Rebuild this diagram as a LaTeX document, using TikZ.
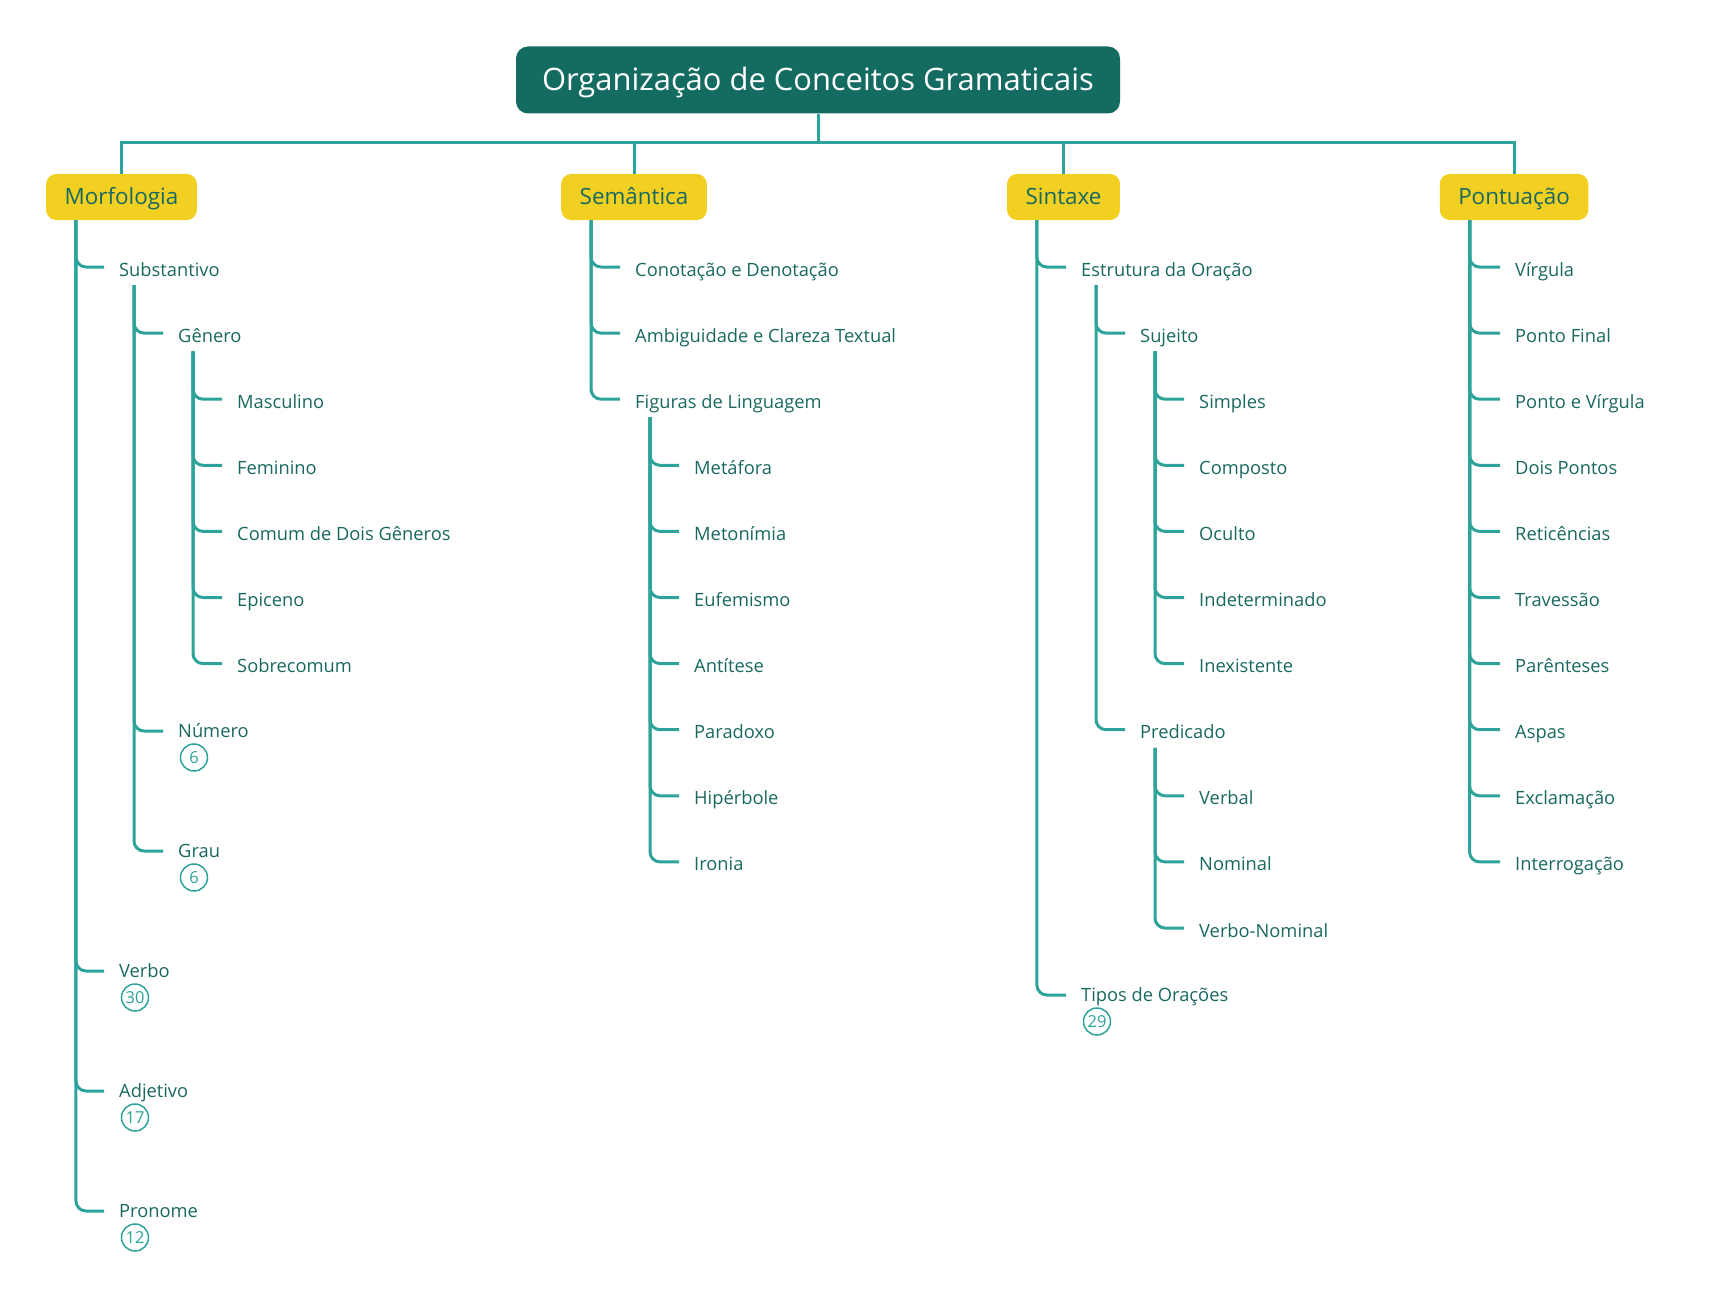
\documentclass[tikz,border=0pt]{standalone}
\usepackage{fontspec}
\setmainfont{Open Sans}
\usetikzlibrary{positioning, calc}

\definecolor{titleteal}{RGB}{20,107,98}
\definecolor{linkteal}{RGB}{45,163,154}
\definecolor{textteal}{RGB}{24,104,96}
\definecolor{catyellow}{RGB}{242,208,34}

\begin{document}
\begin{tikzpicture}[x=1pt, y=-1pt,
  rootbox/.style={fill=titleteal, text=white, rounded corners=12pt, minimum width=604pt, minimum height=67pt, text height=24pt, text depth=2pt, font=\fontsize{30.9}{36}\selectfont},
  catbox/.style={fill=catyellow, text=textteal, rounded corners=10pt, minimum height=46pt, inner xsep=18.5pt, text height=18pt, text depth=3pt, font=\fontsize{22.4}{26}\selectfont},
  topic/.style={anchor=west, text=textteal, inner xsep=15pt, inner ysep=7pt, text height=20pt, text depth=2pt, font=\fontsize{18.3}{22}\selectfont},
  topicn/.style={topic, text height=18pt, text depth=5pt},
  badge/.style={circle, draw=linkteal, line width=1.5pt, text=linkteal, inner sep=0pt, minimum size=27pt, font=\fontsize{16.5}{18}\selectfont},
  link/.style={draw=linkteal, line width=3pt},
  branch/.style={link, rounded corners=10pt}]
  \useasboundingbox (0,0) rectangle (1710,1316);

  % Root
  \node[rootbox] (root) at (818,80) {Organização de Conceitos Gramaticais};

  % Main branches
  \node[catbox] (morf) at (121.5,197) {Morfologia};
  \node[catbox] (sem) at (634,197) {Semântica};
  \node[catbox] (sint) at (1063.5,197) {Sintaxe};
  \node[catbox] (pont) at (1514,197) {Pontuação};
  \coordinate (bar) at (818,143);
  \draw[link] (root.south) -- (bar);
  \foreach \cat in {morf, sem, sint, pont}
    \draw[link] (bar) -| (\cat.north);

  % Morfologia
  \node[topic] (subst) at (104,267) {Substantivo};
  \node[topic] (gen) at (163,333.1) {Gênero};
  \foreach \txt [count=\i] in {Masculino, Feminino, Comum de Dois Gêneros, Epiceno, Sobrecomum} {
    \node[topic] (gen\i) at (222,{333.1+66.1*\i}) {\txt};
    \draw[branch] ([xshift=30pt]gen.south west) |- (gen\i.west);
  }
  \node[topicn] (num) at (163,731) {Número};
  \node[badge] (num-n) at ($(num.west)+(31,26.5)$) {6};
  \node[topicn] (grau) at (163,851) {Grau};
  \node[badge] (grau-n) at ($(grau.west)+(31,26.5)$) {6};
  \foreach \n in {gen, num, grau}
    \draw[branch] ([xshift=30pt]subst.south west) |- (\n.west);
  \node[topicn] (verb) at (104,971) {Verbo};
  \node[badge] (verb-n) at ($(verb.west)+(31,26.5)$) {30};
  \node[topicn] (adj) at (104,1091) {Adjetivo};
  \node[badge] (adj-n) at ($(adj.west)+(31,26.5)$) {17};
  \node[topicn] (pron) at (104,1211) {Pronome};
  \node[badge] (pron-n) at ($(pron.west)+(31,26.5)$) {12};
  \foreach \n in {subst, verb, adj, pron}
    \draw[branch] ([xshift=30pt]morf.south west) |- (\n.west);

  % Semantica
  \node[topic] (conot) at (620,267) {Conotação e Denotação};
  \node[topic] (ambig) at (620,333.1) {Ambiguidade e Clareza Textual};
  \node[topic] (fig) at (620,399.2) {Figuras de Linguagem};
  \foreach \n in {conot, ambig, fig}
    \draw[branch] ([xshift=30pt]sem.south west) |- (\n.west);
  \foreach \txt [count=\i] in {Metáfora, Metonímia, Eufemismo, Antítese, Paradoxo, Hipérbole, Ironia} {
    \node[topic] (fig\i) at (679,{399.2+66.1*\i}) {\txt};
    \draw[branch] ([xshift=30pt]fig.south west) |- (fig\i.west);
  }

  % Sintaxe
  \node[topic] (estr) at (1066,267) {Estrutura da Oração};
  \node[topic] (suj) at (1125,333.1) {Sujeito};
  \foreach \txt [count=\i] in {Simples, Composto, Oculto, Indeterminado, Inexistente} {
    \node[topic] (suj\i) at (1184,{333.1+66.1*\i}) {\txt};
    \draw[branch] ([xshift=30pt]suj.south west) |- (suj\i.west);
  }
  \node[topic] (pred) at (1125,729.7) {Predicado};
  \foreach \txt [count=\i] in {Verbal, Nominal, Verbo-Nominal} {
    \node[topic] (pred\i) at (1184,{729.7+66.1*\i}) {\txt};
    \draw[branch] ([xshift=30pt]pred.south west) |- (pred\i.west);
  }
  \foreach \n in {suj, pred}
    \draw[branch] ([xshift=30pt]estr.south west) |- (\n.west);
  \node[topicn] (tipos) at (1066,995) {Tipos de Orações};
  \node[badge] (tipos-n) at ($(tipos.west)+(31,26.5)$) {29};
  \foreach \n in {estr, tipos}
    \draw[branch] ([xshift=30pt]sint.south west) |- (\n.west);

  % Pontuacao
  \foreach \txt [count=\i] in {Vírgula, Ponto Final, Ponto e Vírgula, Dois Pontos, Reticências, Travessão, Parênteses, Aspas, Exclamação, Interrogação} {
    \node[topic] (pont\i) at (1500,{267+66.1*(\i-1)}) {\txt};
    \draw[branch] ([xshift=30pt]pont.south west) |- (pont\i.west);
  }
\end{tikzpicture}
\end{document}
